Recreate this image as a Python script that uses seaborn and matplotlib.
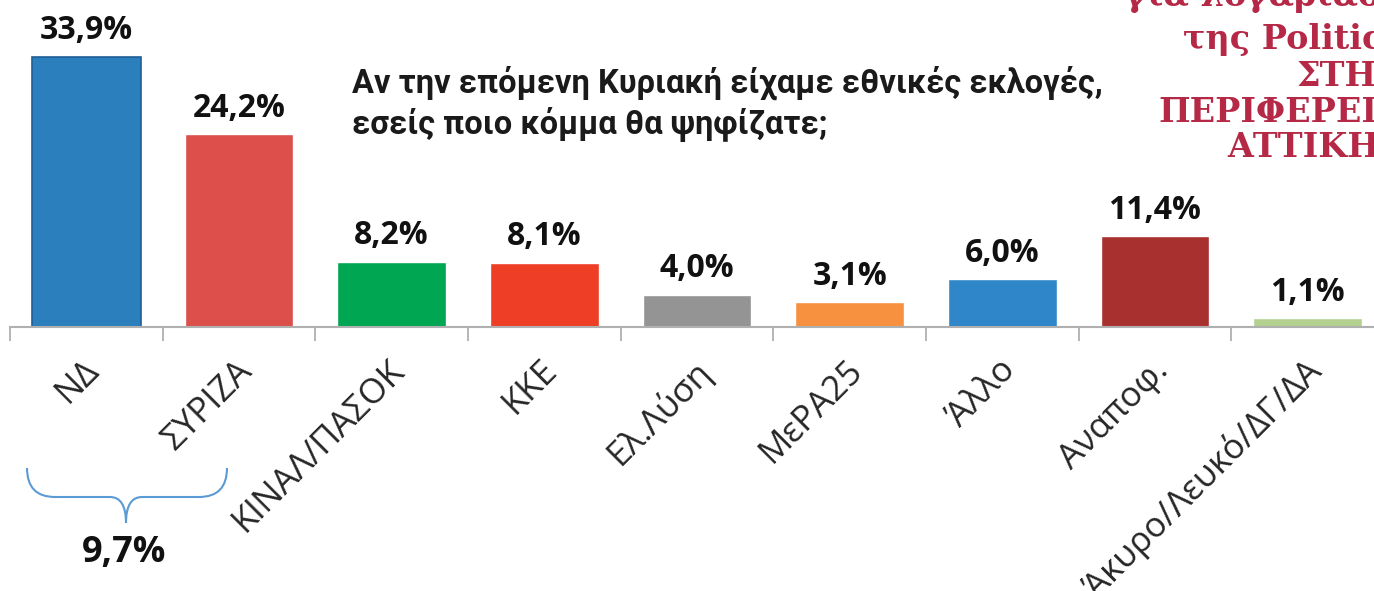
import matplotlib
matplotlib.use('Agg')
import matplotlib.pyplot as plt
import matplotlib.transforms as mtransforms
from matplotlib.path import Path
from matplotlib.patches import PathPatch
import seaborn as sns
import pandas as pd

# poll data
parties = ['ΝΔ', 'ΣΥΡΙΖΑ', 'ΚΙΝΑΛ/ΠΑΣΟΚ', 'ΚΚΕ', 'Ελ.Λύση', 'ΜεΡΑ25',
           'Άλλο', 'Αναποφ.', 'Άκυρο/Λευκό/ΔΓ/ΔΑ']
values = [33.9, 24.2, 8.2, 8.1, 4.0, 3.1, 6.0, 11.4, 1.1]
colors = ['#2b7fbc', '#dc4f4b', '#00a652', '#ee3e26', '#949494', '#f8913f',
          '#2f87c9', '#a8302f', '#b3d08e']
title = 'Αν την επόμενη Κυριακή είχαμε εθνικές εκλογές,\nεσείς ποιο κόμμα θα ψηφίζατε;'
gap_label = '9,7%'
side_lines = ['για λογαριασμό', 'της Politic', 'ΣΤΗ', 'ΠΕΡΙΦΕΡΕΙΑ', 'ΑΤΤΙΚΗ']

df = pd.DataFrame({'party': parties, 'value': values})

sns.set_style('white')
plt.rcParams['font.family'] = ['Open Sans', 'DejaVu Sans']

W, H = 1374, 591
fig = plt.figure(figsize=(W / 100, H / 100), dpi=100)
# axes: left edge at x=10px, baseline at y=327px from top
ax = fig.add_axes([10 / W, (H - 327) / H, 1.0, 327 / H])

sns.barplot(data=df, x='party', y='value', hue='party', palette=colors,
            legend=False, width=0.71, ax=ax, saturation=1)
ax.patches[0].set_edgecolor('#1f5f97')
ax.patches[0].set_linewidth(1.2)

ax.set_xlim(-0.5, len(parties) - 0.5)
ax.set_ylim(0, 327 / 7.96)
ax.set_xlabel('')
ax.set_ylabel('')
ax.set_yticks([])

# value labels
for cont in ax.containers:
    ax.bar_label(cont, labels=[f'{v:.1f}%'.replace('.', ',') for v in cont.datavalues],
                 padding=7, fontsize=23, fontweight='bold', color='#111111')

# boundary ticks (major) and labels at centres (minor)
ax.set_xticks([i - 0.5 for i in range(len(parties) + 1)])
ax.set_xticklabels([])
ax.set_xticks(range(len(parties)), parties, minor=True)
ax.tick_params(axis='x', which='major', length=10, width=1.3, color='#b0b0b0', bottom=True)
ax.tick_params(axis='x', which='minor', length=0, pad=19, labelsize=25)
offset = mtransforms.ScaledTranslation(-4 / 100, 0, fig.dpi_scale_trans)
for lab in ax.get_xticklabels(minor=True):
    lab.set_rotation(45)
    lab.set_ha('right')
    lab.set_va('top')
    lab.set_rotation_mode('anchor')
    lab.set_transform(lab.get_transform() + offset)

for s in ['top', 'left', 'right']:
    ax.spines[s].set_visible(False)
ax.spines['bottom'].set_color('#b0b0b0')
ax.spines['bottom'].set_linewidth(1.5)

# question text
fig.text(352 / W, 1 - 66 / H, title, fontsize=23.5, fontweight='bold',
         family=['Roboto', 'DejaVu Sans'], va='top', ha='left',
         linespacing=1.25, color='#1a1a1a')

# red side caption (cut off by the figure edge, as in the source)
side_x = [1125, 1183, 1297, 1158, 1227]
side_y = [-4, 40, 76, 112, 148]
for txt, x, y in zip(side_lines, side_x, side_y):
    fig.text(x / W, 1 - y / H, txt, fontsize=24, fontweight='bold',
             family=['DejaVu Serif'], color='#b52846', va='center', ha='left')


# brace under ΝΔ / ΣΥΡΙΖΑ
def px(x, y):
    return (x / W, 1 - y / H)


brace = Path([px(27, 468), px(27, 497), px(55, 497),
              px(110, 497), px(126, 497), px(126, 523),
              px(126, 497), px(142, 497),
              px(199, 497), px(227, 497), px(227, 468)],
             [Path.MOVETO, Path.CURVE3, Path.CURVE3,
              Path.LINETO, Path.CURVE3, Path.CURVE3,
              Path.CURVE3, Path.CURVE3,
              Path.LINETO, Path.CURVE3, Path.CURVE3])
fig.patches.append(PathPatch(brace, transform=fig.transFigure, fill=False,
                             edgecolor='#5b9bd5', linewidth=1.5))
fig.text(124 / W, 1 - 553 / H, gap_label, fontsize=26, fontweight='bold',
         ha='center', va='center', color='#111111')

fig.savefig('out.png', dpi=100)
